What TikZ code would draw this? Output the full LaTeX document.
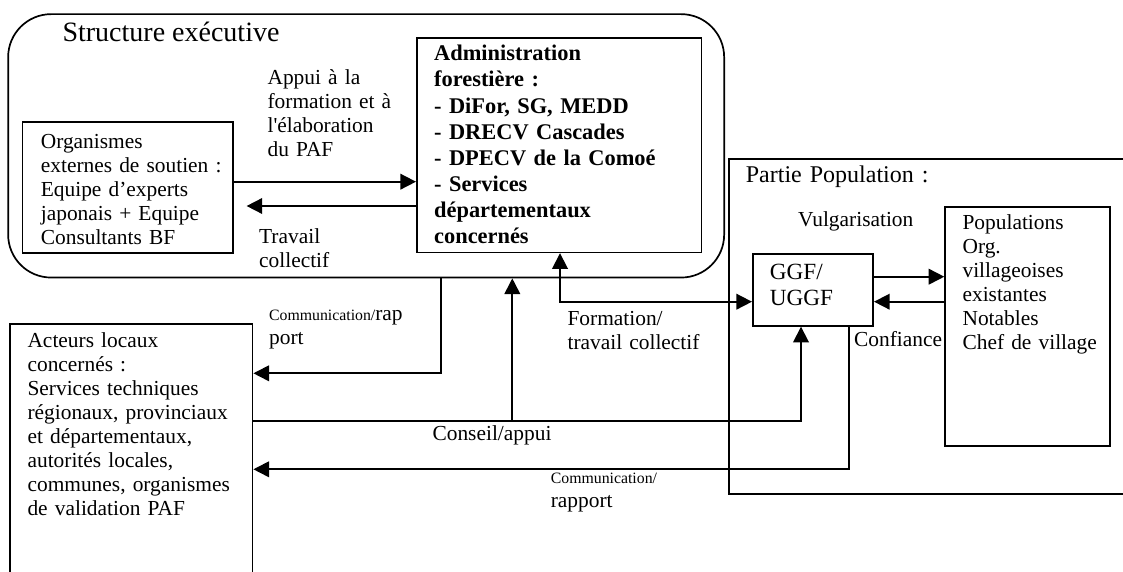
\documentclass[tikz,border=0pt]{standalone}
\usepackage{fontspec}
\setmainfont{Liberation Serif}
\usepackage{tikz}
\usetikzlibrary{arrows.meta}

\begin{document}
\begin{tikzpicture}[x=0.5pt, y=-0.5pt, line width=0.85pt,
  every node/.style={font=\fontsize{10.7}{12}\selectfont},
  frame/.style={draw, rounded corners=21.5pt, anchor=north west, inner sep=0pt},
  box/.style n args={4}{draw, anchor=north west, inner sep=0pt, align=left,
    text width=#1, text height=#3, text depth=#4,
    execute at begin node={\leftskip=#2\relax}},
  lbl/.style={anchor=base west, inner sep=0pt, align=left},
  arr/.style={-{Triangle[length=7.8pt, width=7.8pt]}},
  arrs/.style={{Triangle[length=7.8pt, width=7.8pt]}-{Triangle[length=7.8pt, width=7.8pt]}}]
  \useasboundingbox (0,0) rectangle (1123,572);
  \clip (0,0) rectangle (1123,572);

  % structure executive
  \node (STRUCT)[frame, minimum width=358pt, minimum height=131.7pt] at (7.3,13.3) {};
  \node (TITLE)[lbl, font=\fontsize{14}{16}\selectfont] at (61.7,41.7) {Structure exécutive};
  \node (ORGEXT)[box={105.3pt}{9.15pt}{13.5pt}{52.15pt}] at (21.7,121)
    {Organismes\\externes de soutien :\\Equipe d’experts\\japonais + Equipe\\Consultants BF};
  \node (ADMIN)[box={142.35pt}{8.65pt}{11.35pt}{95.75pt},
    font=\fontsize{11.2}{13.05}\selectfont\bfseries] at (416,37.3)
    {Administration\\forestière :\\- DiFor, SG, MEDD\\- DRECV Cascades\\- DPECV de la Comoé\\- Services\\départementaux\\concernés};

  % acteurs locaux
  \node (ACTEURS)[box={121.2pt}{8.7pt}{11.7pt}{126.65pt}] at (9.3,323.3)
    {Acteurs locaux\\concernés :\\Services techniques\\régionaux, provinciaux\\et départementaux,\\autorités locales,\\communes, organismes\\de validation PAF};

  % partie population
  \node (PARTPOP)[box={205.85pt}{8.35pt}{11.7pt}{155.8pt}, font=\fontsize{12}{14}\selectfont]
    at (728.3,158.3) {Partie Population :};
  \node (GGF)[box={60.15pt}{8.5pt}{12.5pt}{23.35pt}, font=\fontsize{11.6}{13.3}\selectfont]
    at (752,253.3) {GGF/\\UGGF};
  \node (POP)[box={82.5pt}{8.7pt}{11.15pt}{108.35pt}] at (944.3,206)
    {Populations\\Org.\\villageoises\\existantes\\Notables\\Chef de village};

  % labels
  \node (APPUI)[lbl, text width=70pt] at (266.7,85)
    {Appui à la\\formation et à\\l\textquotesingle élaboration\\du PAF};
  \node (TRAVAIL)[lbl, text width=50pt] at (258.3,243.3) {Travail\\collectif};
  \node (COMMRAP)[lbl, text width=70pt] at (268.3,320)
    {{\fontsize{7.9}{9}\selectfont Communication/}rap\\port};
  \node (CONSEIL)[lbl] at (431.7,440.7) {Conseil/appui};
  \node (COMMRAPP)[lbl, text width=60pt] at (550,483)
    {{\fontsize{7.9}{9}\selectfont Communication/}\\rapport};
  \node (FORMATION)[lbl, text width=80pt] at (566.7,325) {Formation/\\travail collectif};
  \node (VULG)[lbl] at (797.3,226.7) {Vulgarisation};
  \node (CONFIANCE)[lbl] at (853.3,346.7) {Confiance};

  % connectors
  \draw[arr] (ORGEXT.east |- 0,181.7) -- (ADMIN.west |- 0,181.7);
  \draw[arr, shorten >=6.3pt] (ADMIN.west |- 0,206) -- (ORGEXT.east |- 0,206);
  \draw[arr] (GGF.east |- 0,276.7) -- (POP.west |- 0,276.7);
  \draw[arr] (POP.west |- 0,301.7) -- (GGF.east |- 0,301.7);
  \draw[arrs] (ADMIN.south -| 560,0) |- (GGF.west |- 0,301.7);
  \draw[arr] (STRUCT.south -| 440.7,0) |- (ACTEURS.east |- 0,373.3);
  \coordinate (BRANCH) at (512.3,421);
  \draw[arr] (ACTEURS.east |- BRANCH) -| (GGF.south -| 801,0);
  \draw[arr] (BRANCH) -- (STRUCT.south -| BRANCH);
  \draw[arr] (GGF.south -| 849,0) |- (ACTEURS.east |- 0,469.3);
\end{tikzpicture}
\end{document}
